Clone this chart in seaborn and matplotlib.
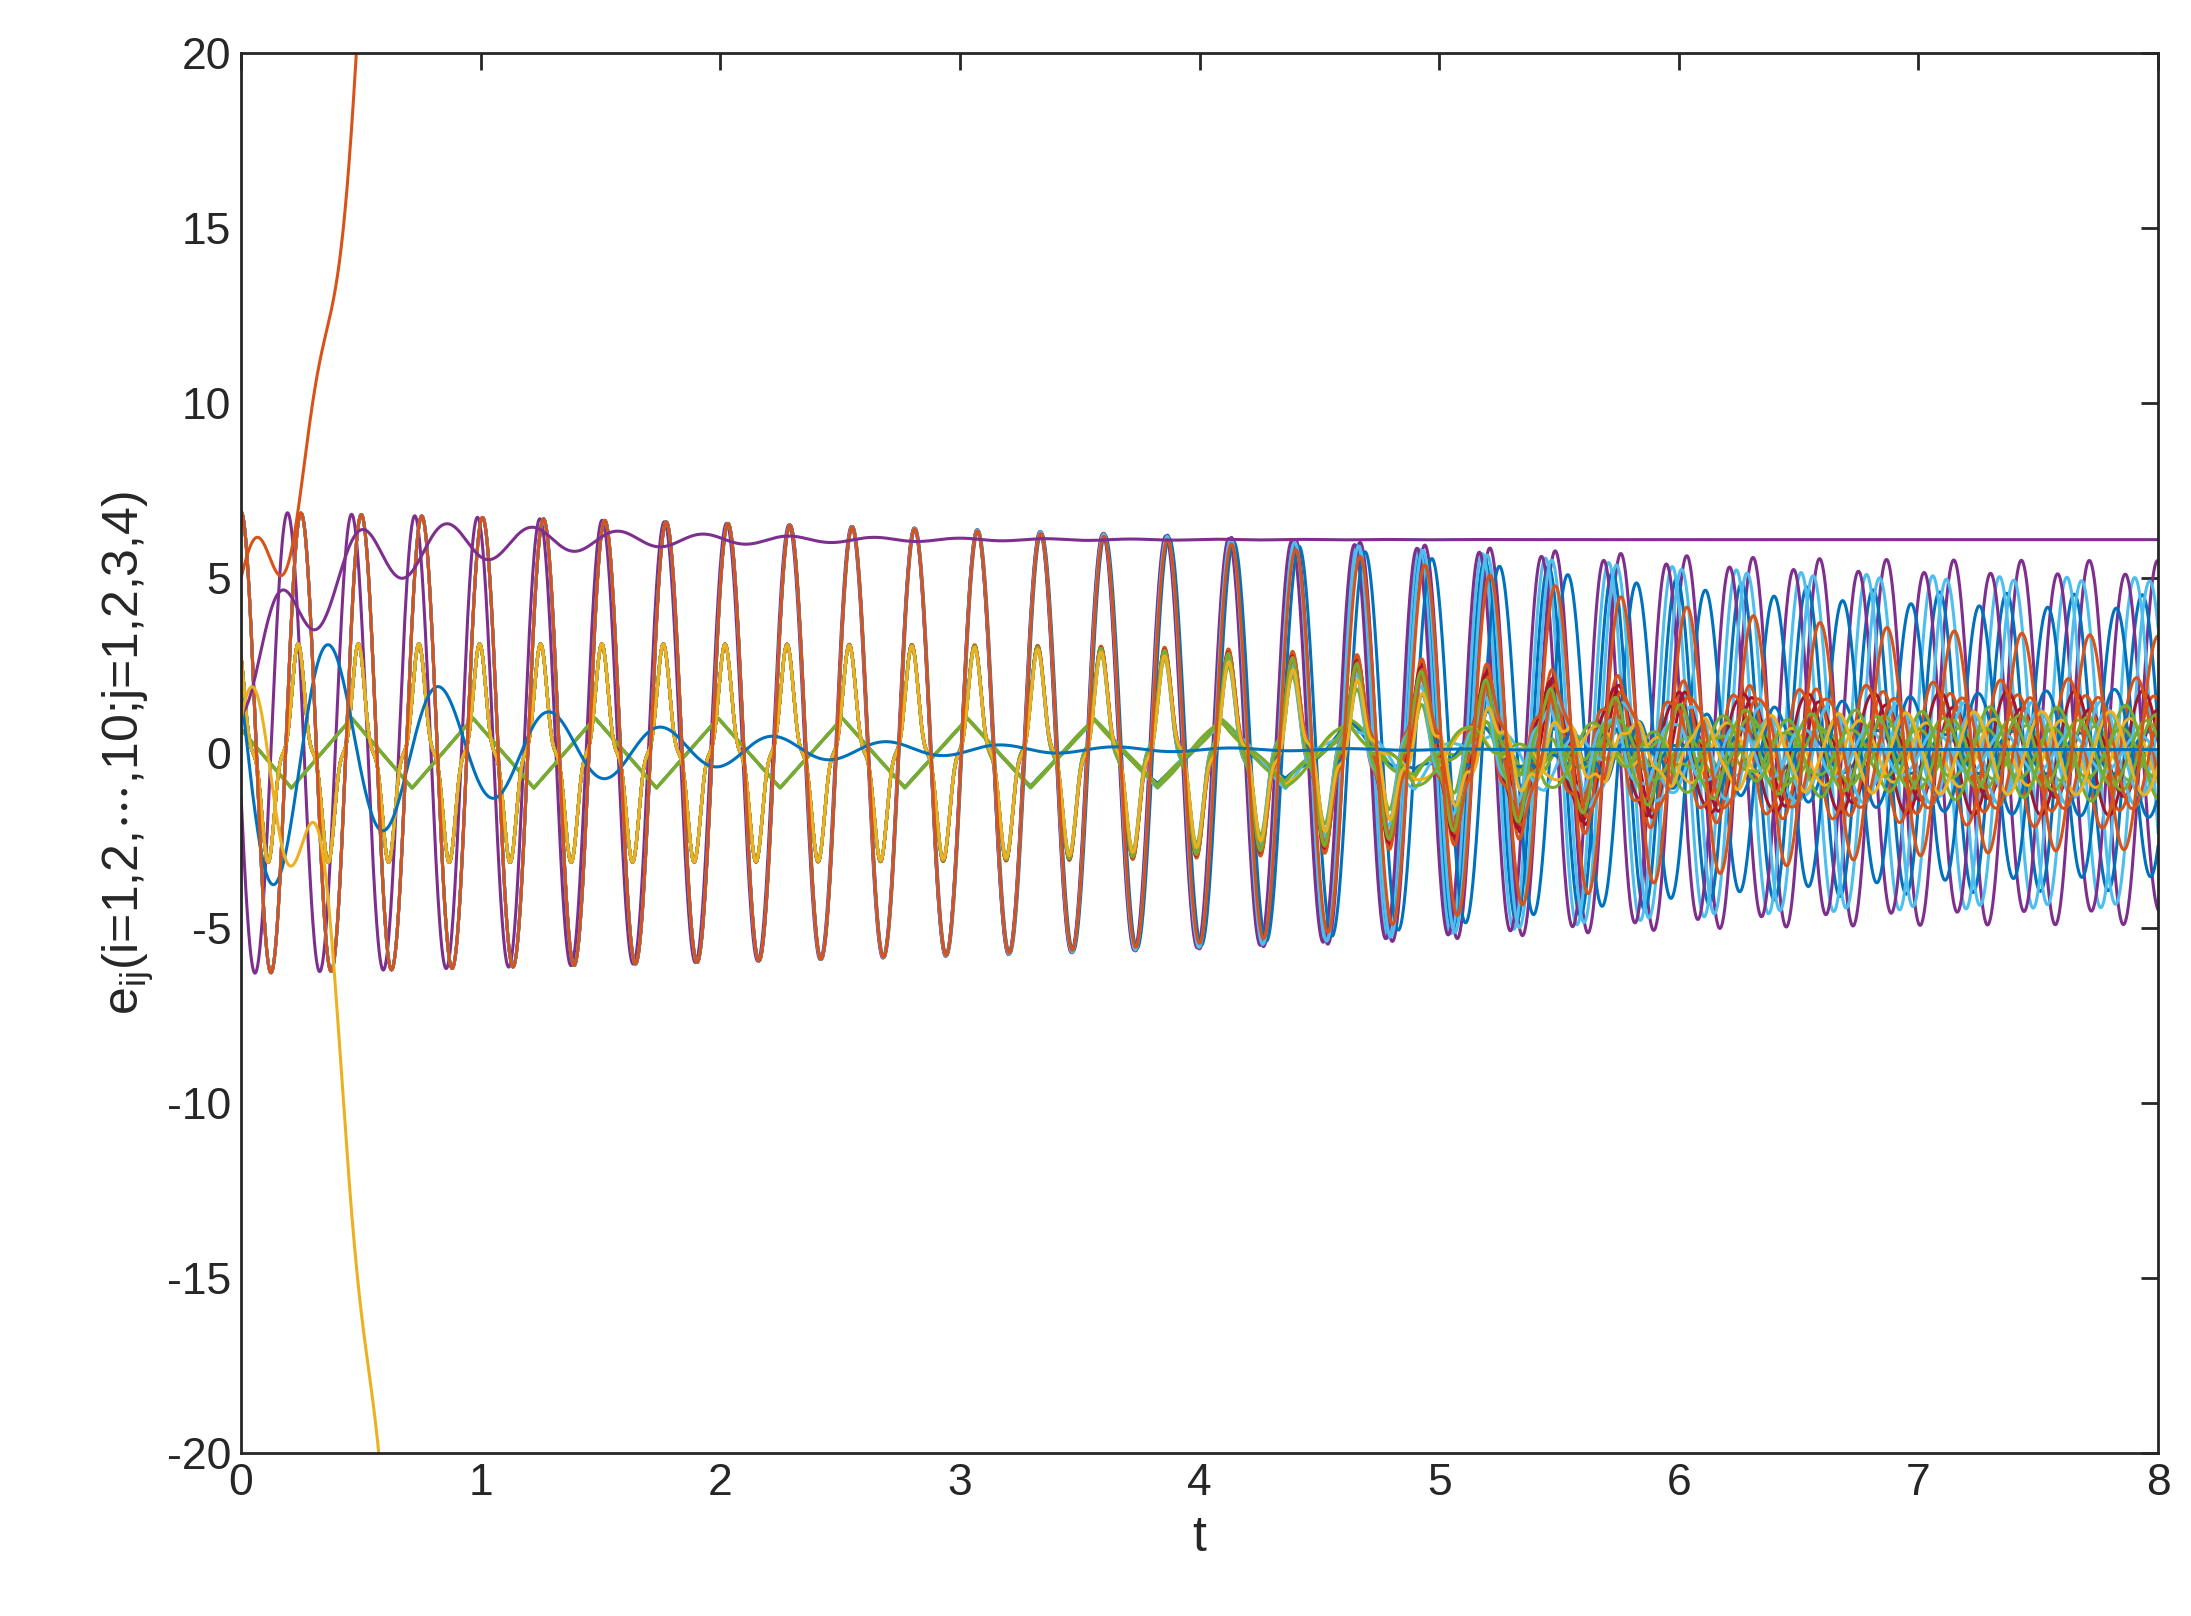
import numpy as np
import pandas as pd
import seaborn as sns
import matplotlib
matplotlib.use("Agg")
import matplotlib.pyplot as plt

sns.set_theme(style="white")
plt.rcParams['font.family'] = ['Liberation Sans', 'DejaVu Sans']
plt.rcParams['mathtext.fontset'] = 'custom'
plt.rcParams['mathtext.rm'] = 'Liberation Sans'
plt.rcParams['mathtext.it'] = 'Liberation Sans'
plt.rcParams['axes.unicode_minus'] = False

colors = ["#0072BD", "#D95319", "#EDB120", "#7E2F8E", "#77AC30", "#4DBEEE", "#A2142F"]

t = np.linspace(0, 8, 4001)
freq_start, freq_end = 4.0, 3.5
main_amp_start, main_amp_end = 6.6, 5.3
main_offset = 0.3
# small-amplitude group: early amplitude, colour, late phase, late amplitude
small_amp = [2.5, 2.5, 1.0, 1.0, 2.5, 2.5, 1.0, 2.5, 2.5, 1.0, 2.5, 1.0, 2.5, 2.5, 1.0, 2.5, 2.5]
small_col = [6, 1, 4, 0, 5, 6, 5, 1, 0, 2, 4, 4, 5, 1, 4, 4, 2]
small_phase = [0.0, 0.4, -0.5, 0.9, -1.1, 1.4, -1.6, 2.0, -2.3, 2.6, -2.9, 0.2, 1.8, -0.8, 3.0, 1.1, -1.9]
small_late = [1.2, 1.6, 0.8, 0.6, 1.5, 1.8, 1.3, 2.2, 1.9, 1.0, 0.7, 1.1, 0.5, 1.6, 1.4, 0.9, 1.2]
# big-amplitude group (last one drawn on top)
big_col = [3, 0, 5, 3, 0, 5, 1]
big_phase = [0.05, 1.5, 2.2, 3.1, -2.5, 0.8, 0.0]
big_late = [5.2, 4.2, 4.7, 4.8, 3.8, 4.6, 3.0]

sync = 1 / (1 + np.exp(-(t - 5.6) * 1.6))
phase = 2 * np.pi * (freq_start * t + (freq_end - freq_start) * t ** 2 / 16)

fig = plt.figure(figsize=(10.955, 8.08), dpi=200)
ax = fig.add_axes([0.11, 0.101, 0.875, 0.866])

def draw(x, y, c, lw=1.1):
    sns.lineplot(x=x, y=y, color=c, lw=lw, ax=ax, estimator=None, sort=False)

amp_main = main_amp_start + (main_amp_end - main_amp_start) * t / 8

def big(k):
    ci, ph, la = big_col[k], big_phase[k], big_late[k]
    early = amp_main * (1 - sync) + la * sync
    ph0 = 1.8 * np.exp(-t / 0.8) if k == 0 else 0
    draw(t, early * np.cos(phase + ph * sync + ph0) + main_offset, colors[ci])

for k in range(len(big_col) - 1):
    big(k)
for a, ci, ph, la in zip(small_amp, small_col, small_phase, small_late):
    amp = a * (1 - sync) + la * sync
    if a > 2:
        base = np.cos(phase + 0.3) + 0.25 * np.cos(3 * (phase + 0.3))
    else:
        base = (2 / np.pi) * np.arcsin(np.cos(0.5 * phase + 0.5))
    y = amp * (base * (1 - sync) + np.cos(phase + ph) * sync)
    draw(t, y, colors[ci])
draw(t, 4.5 * np.exp(-t / 0.9) * np.cos(0.55 * phase + 1.2) + 0.1, colors[0])
big(len(big_col) - 1)
yc = 6.1 - 5.0 * np.exp(-t / 0.25) + 1.8 * np.exp(-t / 0.8) * np.sin(2 * np.pi * 2.8 * t - 1.0) * (1 - np.exp(-t / 0.1))
draw(t, yc, colors[3])
td = t[t <= 0.6]
draw(td, 5 + 2 * td + 130 * td ** 3 + 1.0 * np.sin(2 * np.pi * 4 * td), colors[1])
draw(td, -2 * td - 105 * td ** 3 + 2.0 * np.sin(2 * np.pi * 3.5 * td + 0.5), colors[2])

ax.set_xlim(0, 8)
ax.set_ylim(-20, 20)
ax.set_xticks(range(0, 9))
ax.set_yticks(range(-20, 21, 5))
ax.tick_params(direction='in', length=6, width=1, top=True, right=True, labelsize=16, colors='#262626')
for s in ax.spines.values():
    s.set_color('#262626'); s.set_linewidth(1)
ax.set_xlabel('t', fontsize=18)
ax.set_ylabel(r'e$_{\mathrm{ij}}$(i=1,2,$\cdots$,10;j=1,2,3,4)', fontsize=18)
fig.savefig("out.png", dpi=200)
